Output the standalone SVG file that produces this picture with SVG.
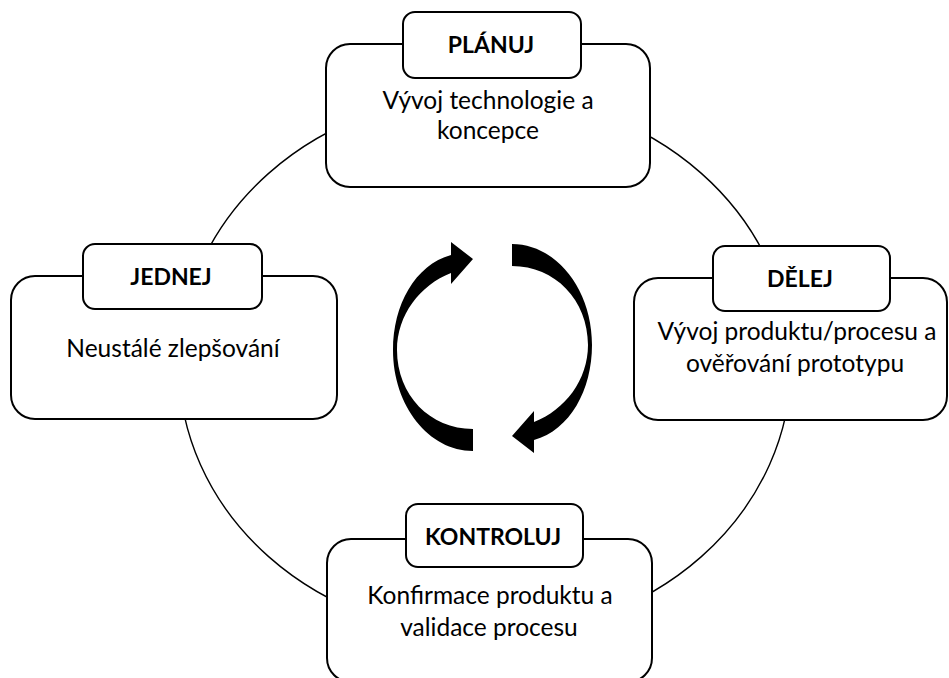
<svg xmlns="http://www.w3.org/2000/svg" xmlns:xlink="http://www.w3.org/1999/xlink" width="949" height="678" viewBox="0 0 949 678">
<style>
.outer{fill:#fff;stroke:#000;stroke-width:2}
.head{fill:#fff;stroke:#000;stroke-width:2}
.ring{fill:none;stroke:#000;stroke-width:1.4}
.h{font-family:Lato,"Liberation Sans",sans-serif;font-weight:bold;font-size:23px;fill:#000;text-anchor:middle}
.t{font-family:Lato,"Liberation Sans",sans-serif;font-size:24.5px;fill:#000;text-anchor:middle}
</style>
<defs>
<path id="arr" d="M473,451 C429,451 393,406 393,350 C393,305 415,265 451,255 L451,242 L473,259 L451,284 L451,273 C420,285 397,315 397,350 C397,395 430,429 473,429 Z" fill="#000"/>
</defs>
<rect width="949" height="678" fill="#fff"/>
<g id="connectors">
<ellipse class="ring" cx="485" cy="365" rx="306" ry="271"/>
</g>
<g id="cycle-arrows">
<use xlink:href="#arr"/>
<use xlink:href="#arr" transform="rotate(180 492.5 347.5)"/>
</g>
<g id="planuj">
<rect class="outer" x="326" y="44" width="324" height="143" rx="24"/>
<rect class="head" x="403" y="12" width="178" height="66" rx="12"/>
<text class="h" x="491" y="53">PLÁNUJ</text>
<text class="t" x="488" y="109">Vývoj technologie a</text>
<text class="t" x="488" y="139">koncepce</text>
</g>
<g id="jednej">
<rect class="outer" x="11" y="276" width="326" height="143" rx="24"/>
<rect class="head" x="83" y="244" width="179" height="65" rx="12"/>
<text class="h" x="171" y="285">JEDNEJ</text>
<text class="t" x="173" y="357">Neustálé zlepšování</text>
</g>
<g id="delej">
<rect class="outer" x="634" y="278" width="313" height="142" rx="24"/>
<rect class="head" x="713" y="246" width="177" height="65" rx="12"/>
<text class="h" x="800" y="287">DĚLEJ</text>
<text class="t" x="797" y="340">Vývoj produktu/procesu a</text>
<text class="t" x="795" y="372">ověřování prototypu</text>
</g>
<g id="kontroluj">
<rect class="outer" x="327" y="539" width="325" height="143" rx="24"/>
<rect class="head" x="406" y="504" width="177" height="63" rx="12"/>
<text class="h" x="493" y="545">KONTROLUJ</text>
<text class="t" x="490" y="604">Konfirmace produktu a</text>
<text class="t" x="489" y="636">validace procesu</text>
</g>
</svg>
